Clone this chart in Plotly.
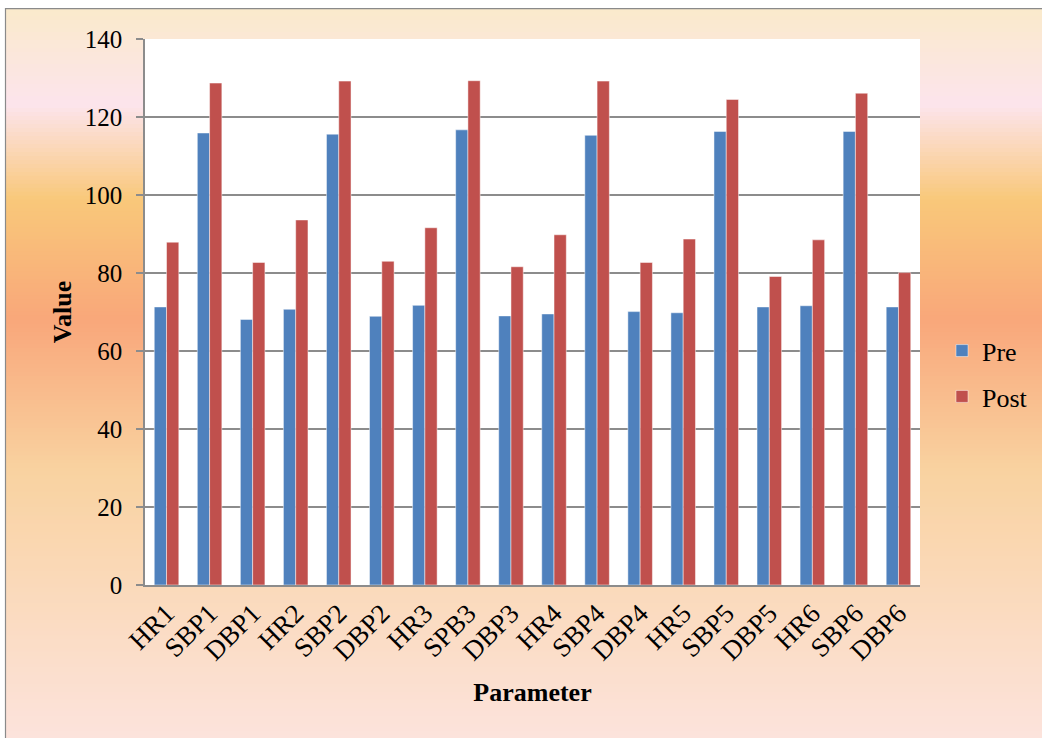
import plotly.graph_objects as go

# Categories and measured values
params = ["HR1", "SBP1", "DBP1", "HR2", "SBP2", "DBP2", "HR3", "SPB3", "DBP3",
          "HR4", "SBP4", "DBP4", "HR5", "SBP5", "DBP5", "HR6", "SBP6", "DBP6"]
pre = [71.3, 115.9, 68.1, 70.7, 115.6, 68.9, 71.7, 116.7, 69.0,
       69.5, 115.3, 70.1, 69.8, 116.3, 71.3, 71.6, 116.3, 71.3]
post = [87.9, 128.7, 82.7, 93.6, 129.2, 83.0, 91.6, 129.3, 81.6,
        89.8, 129.2, 82.7, 88.7, 124.5, 79.1, 88.5, 126.1, 80.1]
y_ticks = [0, 20, 40, 60, 80, 100, 120, 140]

W, H = 1042, 738
L, R, T, B = 145, 920, 39, 585.5
FONT = "Liberation Serif"

fig = go.Figure()
fig.add_trace(go.Bar(name="Pre", x=params, y=pre, marker_color="#4F81BD",
                     marker_line=dict(color="rgba(255,255,255,0.6)", width=0.8),
                     legendgroup="pre"))
fig.add_trace(go.Bar(name="Post", x=params, y=post, marker_color="#C0504D",
                     marker_line=dict(color="rgba(255,255,255,0.6)", width=0.8),
                     legendgroup="post"))


def px_x(px):
    return (px - L) / (R - L)


def px_y(py):
    return (B - py) / (B - T)


# Vertical colour gradient behind the chart
stops = [(8, (250, 234, 203)), (105, (252, 228, 236)), (200, (249, 200, 122)),
         (320, (249, 167, 122)), (470, (249, 210, 160)), (738, (252, 227, 220))]


def grad(py):
    for (y0, c0), (y1, c1) in zip(stops, stops[1:]):
        if y0 <= py <= y1:
            t = (py - y0) / (y1 - y0)
            return tuple(round(a + (b - a) * t) for a, b in zip(c0, c1))
    return stops[-1][1]


shapes = []
step = 4
py = 8
while py < H:
    c = grad(py + step / 2)
    shapes.append(dict(type="rect", xref="paper", yref="paper", layer="below",
                       x0=px_x(5), x1=px_x(W + 2), y0=px_y(py), y1=px_y(py + step + 0.6),
                       line=dict(width=0), fillcolor="rgb(%d,%d,%d)" % c))
    py += step
# plot area
shapes.append(dict(type="rect", xref="paper", yref="paper", layer="below",
                   x0=0, x1=1, y0=0, y1=1, line=dict(width=0), fillcolor="white"))
# outer frame
shapes.append(dict(type="rect", xref="paper", yref="paper", layer="above",
                   x0=px_x(5.5), x1=px_x(W + 5), y0=px_y(8.5), y1=px_y(H + 5),
                   line=dict(color="#8a8a8a", width=1.2), fillcolor="rgba(0,0,0,0)"))

fig.update_layout(
    width=W, height=H,
    margin=dict(l=L, r=W - R, t=T, b=H - B, autoexpand=False),
    paper_bgcolor="white", plot_bgcolor="rgba(0,0,0,0)",
    barmode="group", bargap=0.43, bargroupgap=0,
    font=dict(family=FONT, color="black", size=25),
    shapes=shapes,
    showlegend=True,
    legend=dict(x=px_x(942), y=px_y(374), xanchor="left", yanchor="middle",
                bgcolor="rgba(0,0,0,0)", font=dict(size=26, family=FONT),
                traceorder="grouped", tracegroupgap=9, itemwidth=30),
    xaxis=dict(tickangle=-45, tickfont=dict(size=27, family=FONT),
               showline=True, linecolor="#8c8c8c", linewidth=1.5,
               ticks="", showgrid=False,
               title=dict(text="<b>Parameter</b>", font=dict(size=26, family=FONT),
                          standoff=18)),
    yaxis=dict(range=[0, 140], tickvals=y_ticks, tickfont=dict(size=25, family=FONT),
               showline=True, linecolor="#8c8c8c", linewidth=1.5,
               ticks="outside", ticklen=7, tickcolor="#8c8c8c", tickwidth=1.5,
               ticklabelstandoff=9,
               showgrid=True, gridcolor="#8c8c8c", gridwidth=1.5,
               zeroline=False,
               title=dict(text="<b>Value</b>", font=dict(size=26, family=FONT),
                          standoff=6)),
)

fig.write_html("out.html")
